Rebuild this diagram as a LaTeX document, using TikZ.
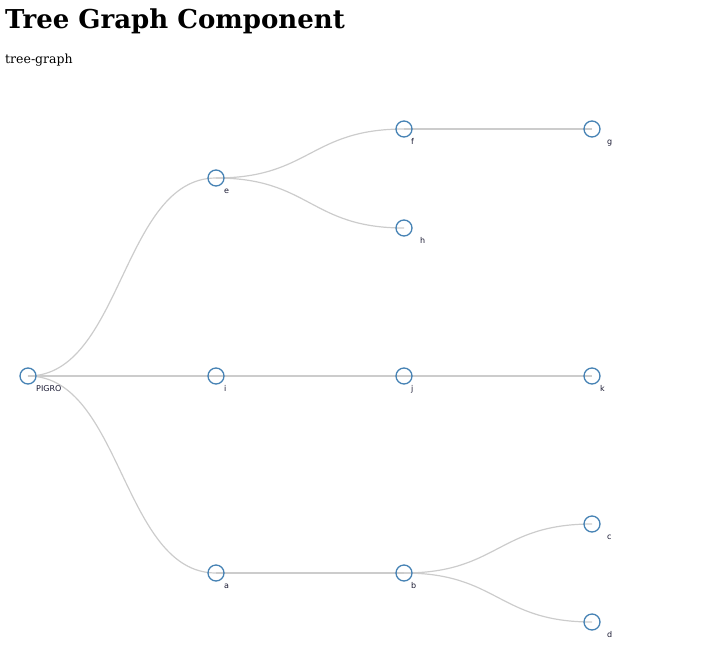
\documentclass[tikz,border=0pt]{standalone}
\usepackage{fontspec}
\setmainfont{DejaVu Serif}
\newfontfamily\lblfont{DejaVu Sans}
\begin{document}
\begin{tikzpicture}[x=1pt,y=-1pt,
  tnode/.style={circle,draw=steelblue,line width=1.3pt,minimum size=16pt,inner sep=0pt},
  lbl/.style={anchor=base west,font=\lblfont\fontsize{8}{9}\selectfont,text=labelc,inner sep=0pt},
  link/.style={draw=linkgray,line width=1.2pt}]
\definecolor{steelblue}{HTML}{4682B4}
\definecolor{linkgray}{HTML}{CCCCCC}
\definecolor{labelc}{HTML}{1A1A33}
\useasboundingbox (0,0) rectangle (706,664);
\node[anchor=base west,inner sep=0pt,font=\bfseries\fontsize{26}{30}\selectfont] (title) at (5,28) {Tree Graph Component};
\node[anchor=base west,inner sep=0pt,font=\fontsize{12.5}{15}\selectfont] (sub) at (5,63) {tree-graph};
% coordinates of nodes
\coordinate (pR) at (28,376);
\coordinate (pE) at (216,178);
\coordinate (pI) at (216,376);
\coordinate (pA) at (216,573);
\coordinate (pF) at (404,129);
\coordinate (pH) at (404,228);
\coordinate (pJ) at (404,376);
\coordinate (pB) at (404,573);
\coordinate (pG) at (592,129);
\coordinate (pK) at (592,376);
\coordinate (pC) at (592,524);
\coordinate (pD) at (592,622);
% links (diagonal)
\draw[link] (pR) .. controls (122,376) and (122,178) .. (pE);
\draw[link] (pR) -- (pI);
\draw[link] (pR) .. controls (122,376) and (122,573) .. (pA);
\draw[link] (pE) .. controls (310,178) and (310,129) .. (pF);
\draw[link] (pE) .. controls (310,178) and (310,228) .. (pH);
\draw[link] (pI) -- (pJ);
\draw[link] (pA) -- (pB);
\draw[link] (pF) -- (pG);
\draw[link] (pJ) -- (pK);
\draw[link] (pB) .. controls (498,573) and (498,524) .. (pC);
\draw[link] (pB) .. controls (498,573) and (498,622) .. (pD);
% nodes
\foreach \n/\t/\dx in {R/PIGRO/8,E/e/8,I/i/8,A/a/8,F/f/7,H/h/16,J/j/7,B/b/7,G/g/15,K/k/8,C/c/15,D/d/15}{
  \node[tnode] (n\n) at (p\n) {};
  \node[lbl] (l\n) at ([xshift=\dx pt,yshift=-15.5pt]p\n) {\t};
}
\end{tikzpicture}
\end{document}
